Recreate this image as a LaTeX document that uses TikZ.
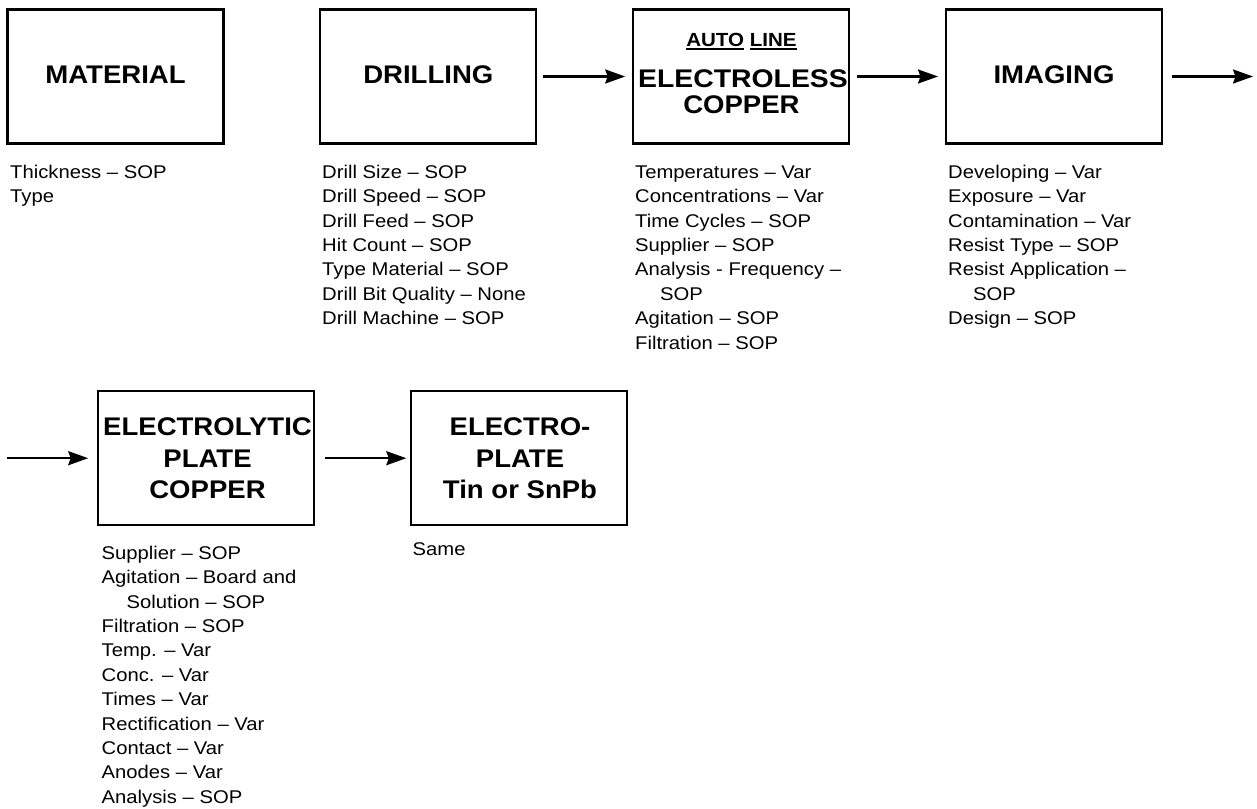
\documentclass[tikz,border=0pt]{standalone}
\usepackage{fontspec}
\usepackage{graphicx}
\setmainfont{Liberation Sans}
\newfontfamily\titlefont[FakeStretch=1.08]{Liberation Sans}
\newfontfamily\listfont[FakeStretch=1.1]{Liberation Sans}
\usetikzlibrary{arrows.meta}
\newcommand\lline[1]{\hbox{#1}}
\newcommand\lind[1]{\hbox{\kern25pt #1}}
\newcommand\itemlist[1]{\vtop{\listfont\fontsize{18.4}{24.4}\selectfont #1}}
\newcommand\ulword[1]{{\setbox0\hbox{#1}\rlap{\rule[-2.9pt]{\wd0}{1.4pt}}\box0}}
\tikzset{
  box/.style={draw, line width=2.2pt, minimum width=216pt, minimum height=134pt, inner sep=0pt, outer sep=0pt},
  title/.style={font=\titlefont\bfseries\fontsize{25.5}{30}\selectfont, inner sep=0pt, anchor=base},
  smalltitle/.style={font=\titlefont\bfseries\fontsize{19}{22}\selectfont, inner sep=0pt, anchor=base},
  list/.style={inner sep=0pt, anchor=base west},
  arr/.style={line width=2.2pt, -{Stealth[length=20pt,width=14pt,inset=2.5pt]}},
}
\begin{document}
\begin{tikzpicture}[x=1pt,y=-1pt]
\useasboundingbox (0,0) rectangle (1257,808);
% boxes
\node[box] (b1) at (115.5,76.5) {};
\node[box] (b2) at (428.3,76.5) {};
\node[box] (b3) at (741.2,76.5) {};
\node[box] (b4) at (1054,76.5) {};
\node[box] (b5) at (206.2,458.2) {};
\node[box] (b6) at (519.3,458.2) {};
% titles
\node[title] (t1) at (115.5,83.3) {MATERIAL};
\node[title] (t2) at (428.3,83.3) {DRILLING};
\node[smalltitle] (t3a) at (741.4,46.7) {\ulword{AUTO} \ulword{LINE}};
\node[title] (t3b) at (743,87.3) {\scalebox{1.03}[1]{ELECTROLESS}};
\node[title] (t3c) at (741.4,113.3) {COPPER};
\node[title] (t4) at (1054,83.3) {IMAGING};
\node[title] (t5a) at (207.5,435) {ELECTROLYTIC};
\node[title] (t5b) at (207.5,467.3) {PLATE};
\node[title] (t5c) at (207.5,498.3) {COPPER};
\node[title] (t6a) at (520,435) {ELECTRO-};
\node[title] (t6b) at (520,467.3) {PLATE};
\node[title] (t6c) at (520,498.3) {Tin or SnPb};
% lists
\node[list] (l1) at (10,178.3) {\itemlist{\lline{Thickness – SOP}\lline{Type}}};
\node[list] (l2) at (322,178.3) {\itemlist{\lline{Drill Size – SOP}\lline{Drill Speed – SOP}\lline{Drill Feed – SOP}\lline{Hit Count – SOP}\lline{Type Material – SOP}\lline{Drill Bit Quality – None}\lline{Drill Machine – SOP}}};
\node[list] (l3) at (635,178.3) {\itemlist{\lline{Temperatures – Var}\lline{Concentrations – Var}\lline{Time Cycles – SOP}\lline{Supplier – SOP}\lline{Analysis - Frequency –}\lind{SOP}\lline{Agitation – SOP}\lline{Filtration – SOP}}};
\node[list] (l4) at (948,178.3) {\itemlist{\lline{Developing – Var}\lline{Exposure – Var}\lline{Contamination – Var}\lline{Resist Type – SOP}\lline{Resist Application –}\lind{SOP}\lline{Design – SOP}}};
\node[list] (l5) at (101.5,559.3) {\itemlist{\lline{Supplier – SOP}\lline{Agitation – Board and}\lind{Solution – SOP}\lline{Filtration – SOP}\lline{Temp. – Var}\lline{Conc. – Var}\lline{Times – Var}\lline{Rectification – Var}\lline{Contact – Var}\lline{Anodes – Var}\lline{Analysis – SOP}}};
\node[list] (l6) at (412.5,555) {\itemlist{\lline{Same}}};
% connectors
\coordinate (c0) at (7,458.2);
\coordinate (c1) at (1253,76.5);
\draw[arr, shorten <=7pt, shorten >=8pt] (b2) -- (b3);
\draw[arr, shorten <=8pt, shorten >=8pt] (b3) -- (b4);
\draw[arr, shorten <=10pt] (b4) -- (c1);
\draw[arr, shorten >=10pt] (c0) -- (b5);
\draw[arr, shorten <=11pt, shorten >=5pt] (b5) -- (b6);
\end{tikzpicture}
\end{document}
